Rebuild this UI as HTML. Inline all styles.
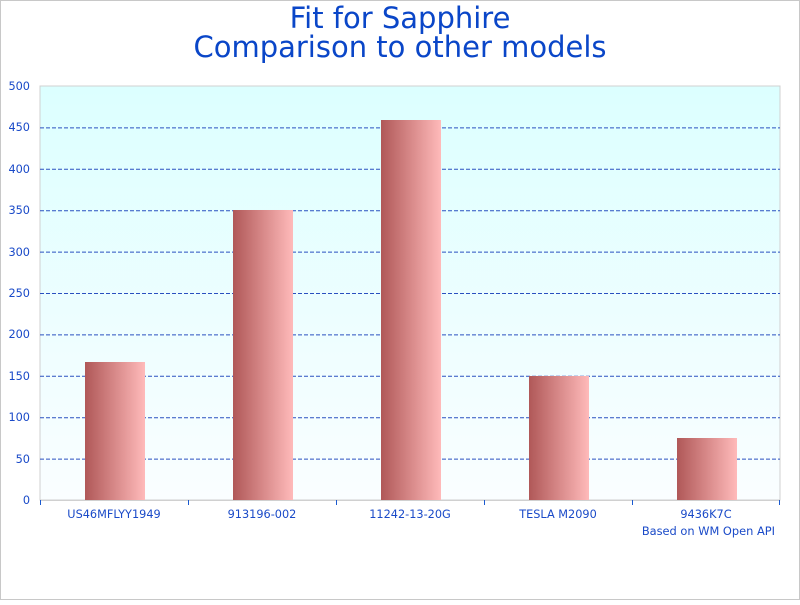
<!DOCTYPE html>
<html><head><meta charset="utf-8"><style>
html,body{margin:0;padding:0;background:#fff;}
</style></head><body>
<svg width="800" height="600" xmlns="http://www.w3.org/2000/svg" font-family="DejaVu Sans, sans-serif">
<defs>
<linearGradient id="bg" x1="0" y1="0" x2="0" y2="1"><stop offset="0" stop-color="#dcffff"/><stop offset="1" stop-color="#fafeff"/></linearGradient>
<linearGradient id="bar" x1="0" y1="0" x2="1" y2="0"><stop offset="0" stop-color="#b05858"/><stop offset="1" stop-color="#ffbaba"/></linearGradient>
</defs>
<rect x="0.5" y="0.5" width="799" height="599" fill="#fff" stroke="#c8c8c8"/>
<text x="400" y="28" font-size="29" fill="#0a46c8" text-anchor="middle">Fit for Sapphire</text>
<text x="400" y="57" font-size="29" fill="#0a46c8" text-anchor="middle">Comparison to other models</text>
<rect x="40" y="86" width="740" height="414" fill="url(#bg)" stroke="#d0d0d0"/>
<g stroke="#2a50c0" stroke-dasharray="4,2" stroke-width="1">
<line x1="40" x2="780" y1="127.9" y2="127.9"/><line x1="40" x2="780" y1="169.3" y2="169.3"/>
<line x1="40" x2="780" y1="210.7" y2="210.7"/><line x1="40" x2="780" y1="252.1" y2="252.1"/>
<line x1="40" x2="780" y1="293.5" y2="293.5"/><line x1="40" x2="780" y1="334.9" y2="334.9"/>
<line x1="40" x2="780" y1="376.3" y2="376.3"/><line x1="40" x2="780" y1="417.7" y2="417.7"/>
<line x1="40" x2="780" y1="459.1" y2="459.1"/>
</g>
<g fill="url(#bar)">
<rect x="85" y="362" width="60" height="138"/>
<rect x="233" y="210" width="60" height="290"/>
<rect x="381" y="120" width="60" height="380"/>
<rect x="529" y="376" width="60" height="124"/>
<rect x="677" y="438" width="60" height="62"/>
</g>
<line x1="40" x2="780" y1="500.5" y2="500.5" stroke="#d0d0d0"/>
<g stroke="#1a5ad0"><line x1="40.5" x2="40.5" y1="500" y2="505"/><line x1="188.5" x2="188.5" y1="500" y2="505"/><line x1="336.5" x2="336.5" y1="500" y2="505"/><line x1="484.5" x2="484.5" y1="500" y2="505"/><line x1="632.5" x2="632.5" y1="500" y2="505"/><line x1="779.5" x2="779.5" y1="500" y2="505"/></g>
<g font-size="11.3" fill="#1a4ac8" text-anchor="end">
<text x="30" y="504">0</text><text x="30" y="463">50</text><text x="30" y="421">100</text><text x="30" y="380">150</text><text x="30" y="338">200</text><text x="30" y="297">250</text><text x="30" y="256">300</text><text x="30" y="214">350</text><text x="30" y="173">400</text><text x="30" y="131">450</text><text x="30" y="90">500</text>
</g>
<g font-size="11.3" fill="#1a4ac8" text-anchor="middle">
<text x="114" y="518">US46MFLYY1949</text><text x="262" y="518">913196-002</text><text x="410" y="518">11242-13-20G</text><text x="558" y="518">TESLA M2090</text><text x="706" y="518">9436K7C</text>
</g>
<text x="775" y="535" font-size="11.4" fill="#1a4ac8" text-anchor="end">Based on WM Open API</text>
</svg>
</body></html>
